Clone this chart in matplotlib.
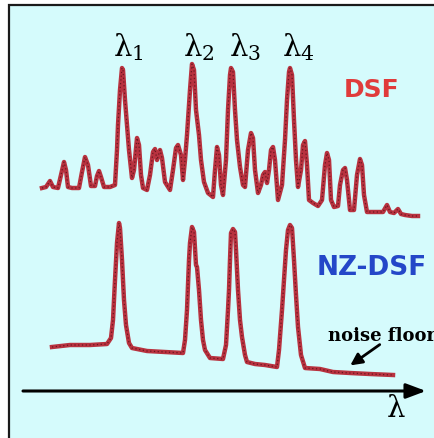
import matplotlib
matplotlib.use("Agg")
from matplotlib import pyplot as plt
from matplotlib.patches import Rectangle

# traces (pixel-like units, y grows downward)
dsf_x = [42, 46, 50, 53, 58, 61, 64, 66, 68, 72, 79, 82, 85, 88, 91, 95, 97, 99, 101, 104,
         110, 115, 117, 118, 120, 122, 123, 125, 127, 129, 132, 134, 137, 139, 141, 143, 147,
         150, 153, 155, 157, 160, 162, 165, 170, 173, 176, 178, 181, 183, 185, 187, 190, 192,
         194, 196, 199, 201, 204, 208, 213, 215, 217, 219, 221, 223, 226, 228, 230, 231, 233,
         235, 237, 240, 243, 245, 248, 251, 253, 255, 258, 261, 263, 265, 267, 269, 271, 273,
         275, 278, 282, 285, 287, 289, 290, 292, 294, 296, 298, 301, 303, 305, 307, 309, 313,
         318, 322, 325, 327, 329, 331, 334, 338, 340, 343, 345, 347, 350, 354, 357, 360, 362,
         364, 367, 373, 383, 387, 390, 394, 398, 401, 405, 412, 418]
dsf_y = [188, 187, 181, 187, 188, 175, 162, 170, 187, 188, 188, 172, 157, 165, 186, 186, 176, 171, 177, 187,
         187, 185, 150, 125, 90, 68, 70, 100, 125, 150, 178, 170, 138, 145, 175, 188, 190,
         175, 152, 149, 160, 150, 158, 182, 190, 170, 148, 145, 155, 180, 160, 135, 90, 64,
         70, 110, 135, 160, 182, 193, 197, 170, 147, 155, 185, 195, 160, 110, 75, 68, 72,
         110, 140, 167, 185, 187, 150, 133, 138, 170, 193, 185, 175, 172, 183, 170, 150, 147,
         160, 200, 185, 140, 100, 72, 68, 75, 120, 160, 187, 170, 145, 141, 165, 200, 203,
         206, 200, 165, 153, 160, 200, 207, 206, 185, 170, 168, 180, 210, 210, 175, 159, 165,
         195, 212, 212, 212, 205, 212, 213, 209, 214, 215, 216, 216]

nz_x = [52, 70, 90, 107, 111, 113, 115, 117, 119, 120, 122, 124, 126, 129, 132, 147, 165, 183,
        185, 187, 189, 190, 192, 194, 196, 197, 199, 201, 203, 205, 210, 223, 226, 228, 229,
        230, 231, 233, 235, 236, 238, 240, 242, 245, 247, 255, 265, 277, 279, 282, 284, 286,
        288, 290, 292, 294, 296, 298, 301, 305, 320, 333, 350, 370, 393]
nz_y = [347, 345, 345, 344, 338, 320, 280, 243, 223, 228, 260, 300, 325, 343, 348, 351, 352, 353,
        340, 310, 260, 243, 227, 232, 265, 267, 290, 320, 340, 350, 358, 359, 345, 310, 290,
        260, 233, 229, 232, 250, 290, 320, 337, 355, 362, 364, 365, 367, 350, 310, 280, 250,
        230, 225, 228, 260, 295, 327, 355, 368, 369, 372, 373, 374, 375]

peak_labels = [r"$\mathrm{\lambda}_1$", r"$\mathrm{\lambda}_2$", r"$\mathrm{\lambda}_3$", r"$\mathrm{\lambda}_4$"]
peak_label_x = [128, 199, 245, 298]

plt.rcParams['mathtext.fontset'] = 'dejavuserif'

fig = plt.figure(figsize=(4.35, 4.38), dpi=100)
fig.patch.set_facecolor('white')
ax = fig.add_axes([0, 0, 1, 1])
ax.set_xlim(0, 435)
ax.set_ylim(438, 0)
ax.axis('off')

# cyan panel with dark frame (runs off right/bottom edges)
ax.add_patch(Rectangle((9, 5), 440, 440, facecolor='#d5fbfc', edgecolor='#1a1a1a', lw=1.6, zorder=0))

for xs, ys in [(dsf_x, dsf_y), (nz_x, nz_y)]:
    ax.plot(xs, ys, color='#b8323f', lw=3.2, solid_joinstyle='round', zorder=2)
    ax.plot(xs, ys, color='#3e0810', lw=0.9, ls=(0, (1, 2)), alpha=0.65, zorder=3)

for lab, x in zip(peak_labels, peak_label_x):
    ax.text(x, 47, lab, fontsize=21, ha='center', va='center', color='black')

ax.text(372, 90, "DSF", fontsize=18, fontweight='bold', color='#e03b3b', ha='center', va='center')
ax.text(317, 268, "NZ-DSF", fontsize=19, fontweight='bold', color='#2447c8', ha='left', va='center')

ax.text(328, 341, "noise floor", fontsize=13, fontweight='bold', family='DejaVu Serif',
        color='black', ha='left', va='baseline')
ax.annotate("", xy=(348, 367), xytext=(382, 343),
            arrowprops=dict(arrowstyle='-|>,head_length=0.7,head_width=0.35', color='black', lw=2))

# wavelength axis arrow
ax.annotate("", xy=(426, 391), xytext=(23, 391),
            arrowprops=dict(arrowstyle='-|>,head_length=1.2,head_width=0.45', color='black', lw=2.2,
                            shrinkA=0, shrinkB=0))
ax.text(396, 409, r"$\mathrm{\lambda}$", fontsize=21, ha='center', va='center', color='black')

fig.savefig("out.png", dpi=100, facecolor=fig.get_facecolor())
